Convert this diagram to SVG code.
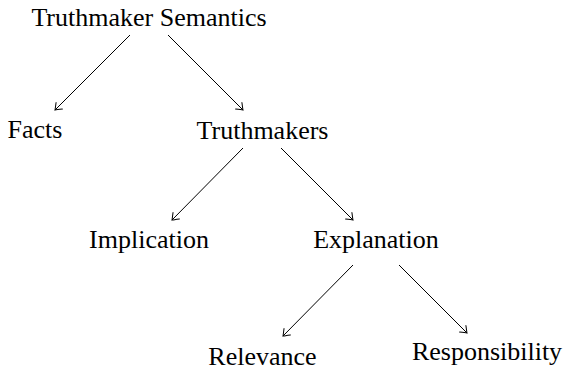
<svg xmlns="http://www.w3.org/2000/svg" width="569" height="371" viewBox="0 0 569 371">
<style>
.lbl{font-family:"Liberation Serif","Times New Roman",serif;font-size:26px;fill:#000;text-anchor:middle}
.edge{stroke:#000;stroke-width:1;fill:none;marker-end:url(#arr)}
</style>
<defs>
<marker id="arr" viewBox="-8 -6 10 12" markerWidth="10" markerHeight="12" refX="0" refY="0" orient="auto" markerUnits="userSpaceOnUse">
<path d="M -6,-4.5 Q -1.5,-1 0,0 Q -1.5,1 -6,4.5" stroke="#000" stroke-width="1" fill="none" stroke-linecap="round"/>
</marker>
</defs>
<rect width="569" height="371" fill="#fff"/>
<g id="connectors">
<line class="edge" x1="130" y1="35" x2="55" y2="110"/>
<line class="edge" x1="168" y1="35" x2="243" y2="110"/>
<line class="edge" x1="243" y1="148" x2="172" y2="220"/>
<line class="edge" x1="281" y1="148" x2="353" y2="220"/>
<line class="edge" x1="353" y1="265" x2="283" y2="336"/>
<line class="edge" x1="399" y1="265" x2="467" y2="333"/>
</g>
<g id="truthmaker-semantics"><text class="lbl" x="149" y="26">Truthmaker Semantics</text></g>
<g id="facts"><text class="lbl" x="35" y="138">Facts</text></g>
<g id="truthmakers"><text class="lbl" x="262.5" y="139">Truthmakers</text></g>
<g id="implication"><text class="lbl" x="149" y="248">Implication</text></g>
<g id="explanation"><text class="lbl" x="376" y="248">Explanation</text></g>
<g id="relevance"><text class="lbl" x="262.5" y="365">Relevance</text></g>
<g id="responsibility"><text class="lbl" x="487" y="360">Responsibility</text></g>
</svg>
